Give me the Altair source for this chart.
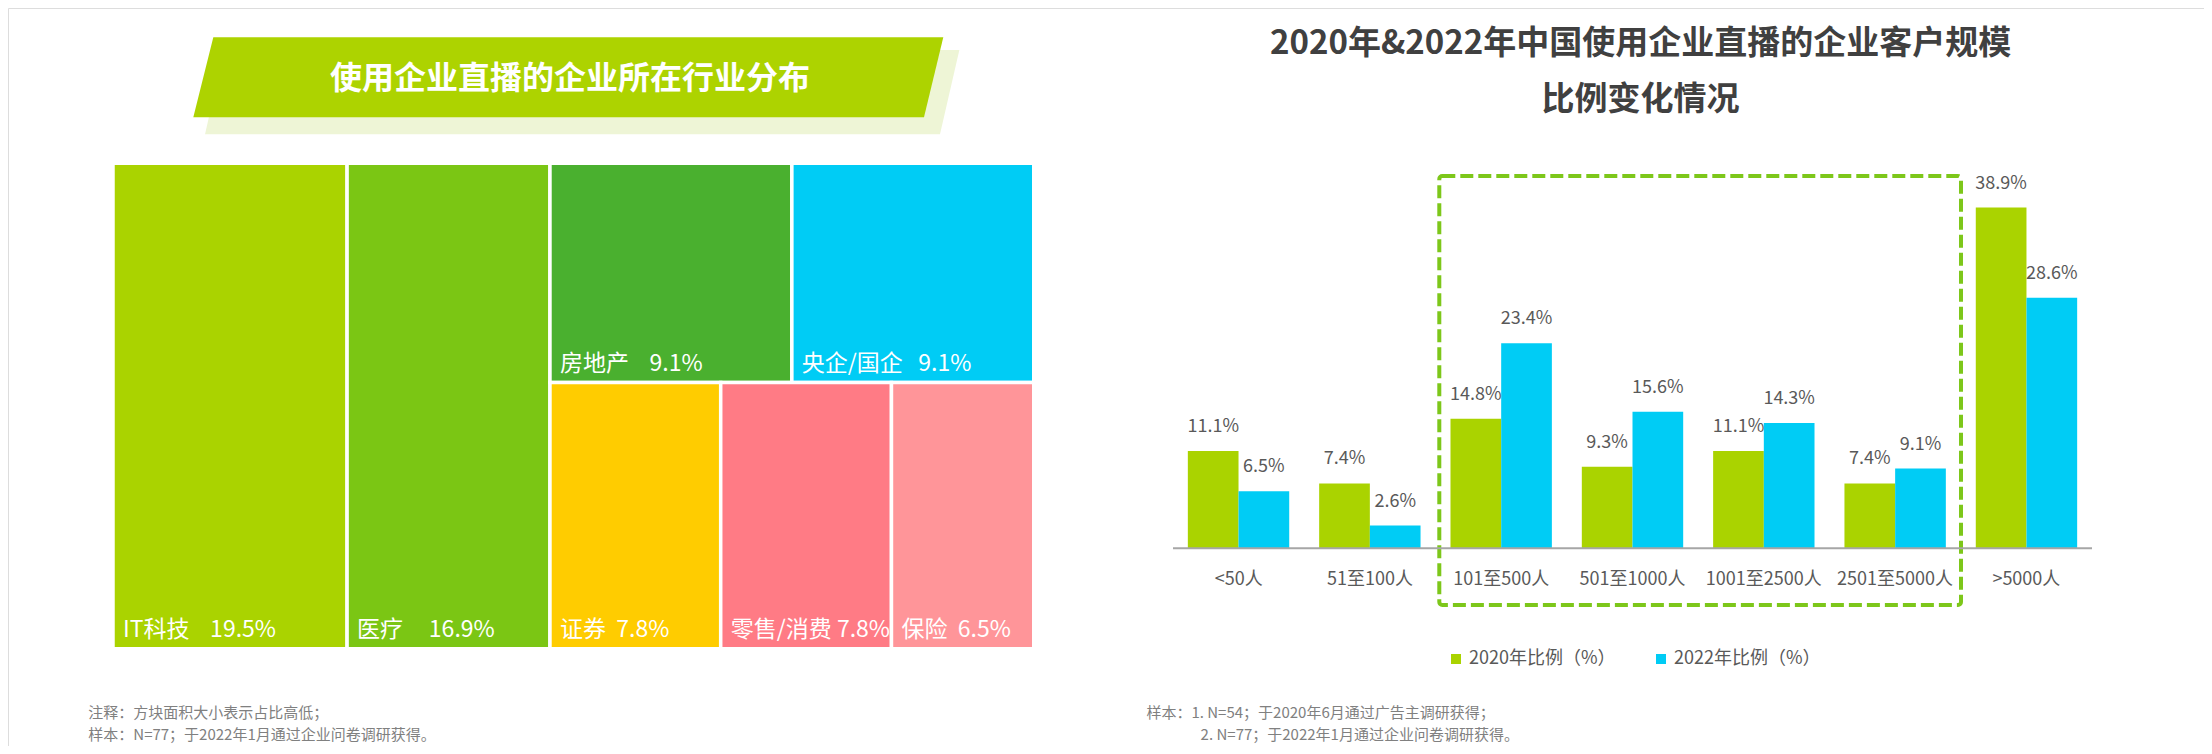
import altair as alt
import pandas as pd

FONT = "Noto Sans CJK SC"

# ---------------- data ----------------
industries = ["IT科技", "医疗", "房地产", "央企/国企", "证券", "零售/消费", "保险"]
industry_share = [19.5, 16.9, 9.1, 9.1, 7.8, 7.8, 6.5]
industry_colors = ["#AAD300", "#7BC614", "#4AB02F", "#00CCF5", "#FFCC00", "#FF7B85", "#FF9599"]
label_gaps = [4, 5, 4, 3, 2, 1, 2]
top_row = [2, 3]
bottom_row = [4, 5, 6]

size_cats = ["<50人", "51至100人", "101至500人", "501至1000人", "1001至2500人", "2501至5000人", ">5000人"]
share_2020 = [11.1, 7.4, 14.8, 9.3, 11.1, 7.4, 38.9]
share_2022 = [6.5, 2.6, 23.4, 15.6, 14.3, 9.1, 28.6]
years = ["2020年比例（%）", "2022年比例（%）"]
year_colors = ["#AAD300", "#00CCF5"]

left_title = "使用企业直播的企业所在行业分布"
right_title_1 = "2020年&2022年中国使用企业直播的企业客户规模"
right_title_2 = "比例变化情况"
left_note_1 = "注释：方块面积大小表示占比高低；"
left_note_2 = "样本：N=77；于2022年1月通过企业问卷调研获得。"
right_note_1 = "样本：1. N=54；于2020年6月通过广告主调研获得；"
right_note_2 = "2. N=77；于2022年1月通过企业问卷调研获得。"

# ---------------- treemap layout (slice and dice from values) ----------------
total = sum(industry_share)
tm_rows = []
xc = 0.0
for i in [0, 1]:
    v = industry_share[i]
    tm_rows.append(dict(name=industries[i], x0=xc, x1=xc + v, y0=0.0, y1=1.0,
                        label=industries[i] + "\u00a0" * label_gaps[i] + f"{v}%"))
    xc += v
bx0 = xc
bw = total - xc
top_sum = sum(industry_share[i] for i in top_row)
bot_sum = sum(industry_share[i] for i in bottom_row)
split = bot_sum / (top_sum + bot_sum)
for idxs, y0, y1, s in [(top_row, split, 1.0, top_sum), (bottom_row, 0.0, split, bot_sum)]:
    cx = bx0
    for i in idxs:
        w = industry_share[i] / s * bw
        tm_rows.append(dict(name=industries[i], x0=cx, x1=cx + w, y0=y0, y1=y1,
                            label=industries[i] + "\u00a0" * label_gaps[i] + f"{industry_share[i]}%"))
        cx += w
tm = pd.DataFrame(tm_rows)

bars = pd.DataFrame(
    [dict(size=c, year=years[0], value=v, label=f"{v}%") for c, v in zip(size_cats, share_2020)]
    + [dict(size=c, year=years[1], value=v, label=f"{v}%") for c, v in zip(size_cats, share_2022)]
)
cats_df = pd.DataFrame({"size": size_cats})
one = pd.DataFrame({"a": [0]})

# ---------------- scales ----------------
tm_x = alt.Scale(domain=[0, total], range=[105, 1025.75], nice=False, zero=False)
tm_y = alt.Scale(domain=[0, 1], range=[640.75, 155.25], nice=False, zero=False)
tm_color = alt.Scale(domain=industries, range=industry_colors)

bx = alt.Scale(domain=size_cats, range=[1165, 2084], paddingInner=0.228, paddingOuter=0.113)
bxo = alt.Scale(domain=years, paddingInner=0, paddingOuter=0)
by = alt.Scale(domain=[0, 40], range=[540.3, 189.9], nice=False, zero=True)
bcolor = alt.Scale(domain=years, range=year_colors)

# ---------------- left panel ----------------
banner_shadow = alt.Chart(one).mark_point(
    shape="M -0.9497 -0.1118 L 1 -0.1118 L 0.9487 0.1118 L -1 0.1118 Z",
    filled=True, opacity=1, strokeWidth=0, color="#EEF5D6", size=754.3 ** 2,
).encode(x=alt.value(574.2), y=alt.value(84.2))

banner = alt.Chart(one).mark_point(
    shape="M -0.9467 -0.1067 L 1 -0.1067 L 0.9485 0.1067 L -1 0.1067 Z",
    filled=True, opacity=1, strokeWidth=0, color="#ADD300", size=750 ** 2,
).encode(x=alt.value(560.3), y=alt.value(69.3))

banner_text = alt.Chart(one).mark_text(
    text=left_title, font=FONT, fontSize=32, fontWeight="bold", color="white",
    align="center", baseline="middle",
).encode(x=alt.value(562), y=alt.value(71))

tm_rect = alt.Chart(tm).mark_rect(stroke="white", strokeWidth=3.5).encode(
    x=alt.X("x0:Q", scale=tm_x, axis=None),
    x2="x1:Q",
    y=alt.Y("y0:Q", scale=tm_y, axis=None),
    y2="y1:Q",
    color=alt.Color("name:N", scale=tm_color, legend=None),
)

tm_text = alt.Chart(tm).mark_text(
    font=FONT, fontSize=23, color="white", align="left", baseline="alphabetic", dx=10, dy=-12,
).encode(
    x=alt.X("x0:Q", scale=tm_x, axis=None),
    y=alt.Y("y0:Q", scale=tm_y, axis=None),
    text="label:N",
)

note_style = dict(font=FONT, fontSize=15, color="#808080", align="left", baseline="middle")
ln1 = alt.Chart(one).mark_text(text=left_note_1, **note_style).encode(x=alt.value(80.3), y=alt.value(705))
ln2 = alt.Chart(one).mark_text(text=left_note_2, **note_style).encode(x=alt.value(80.3), y=alt.value(727))

# ---------------- right panel ----------------
title_style = dict(font=FONT, fontSize=33, fontWeight="bold", color="#404040", align="center", baseline="middle")
rt1 = alt.Chart(one).mark_text(text=right_title_1, **title_style).encode(x=alt.value(1632.6), y=alt.value(36))
rt2 = alt.Chart(one).mark_text(text=right_title_2, **title_style).encode(x=alt.value(1632.6), y=alt.value(92))

dash_box = alt.Chart(one).mark_rect(
    fillOpacity=0, stroke="#7DC71A", strokeWidth=4, strokeDash=[13, 5], cornerRadius=3,
).encode(x=alt.value(1431.3), x2=alt.value(1953), y=alt.value(168), y2=alt.value(597))

bar_layer = alt.Chart(bars).mark_bar().encode(
    x=alt.X("size:N", sort=size_cats, scale=bx, axis=None),
    xOffset=alt.XOffset("year:N", sort=years, scale=bxo),
    y=alt.Y("value:Q", scale=by, axis=None),
    color=alt.Color(
        "year:N", scale=bcolor,
        legend=alt.Legend(
            orient="none", legendX=1439, legendY=642, direction="horizontal", title=None,
            symbolType="square", symbolSize=100, symbolStrokeWidth=0,
            labelFont=FONT, labelFontSize=18, labelColor="#595959", labelOffset=4,
            columnPadding=36, padding=0, labelLimit=400,
        ),
    ),
)

bar_text = alt.Chart(bars).mark_text(
    font=FONT, fontSize=18, color="#595959", align="center", baseline="alphabetic", dy=-19,
).encode(
    x=alt.X("size:N", sort=size_cats, scale=bx, axis=None),
    xOffset=alt.XOffset("year:N", sort=years, scale=bxo),
    y=alt.Y("value:Q", scale=by, axis=None),
    text="label:N",
)

baseline = alt.Chart(one).mark_rule(color="#A6A6A6", strokeWidth=2).encode(
    x=alt.value(1165), x2=alt.value(2084),
    y=alt.YDatum(0, type="quantitative", scale=by, axis=None),
)

cat_text = alt.Chart(cats_df).mark_text(
    font=FONT, fontSize=18, color="#595959", align="center", baseline="alphabetic",
).encode(
    x=alt.X("size:N", sort=size_cats, scale=bx, axis=None),
    y=alt.value(577),
    text="size:N",
)

rn1 = alt.Chart(one).mark_text(text=right_note_1, **note_style).encode(x=alt.value(1138.4), y=alt.value(705))
rn2 = alt.Chart(one).mark_text(text=right_note_2, **note_style).encode(x=alt.value(1192.6), y=alt.value(727))

chart = alt.layer(
    banner_shadow, banner, banner_text, tm_rect, tm_text, ln1, ln2,
    rt1, rt2, dash_box, bar_layer, bar_text, baseline, cat_text, rn1, rn2,
).resolve_scale(
    x="independent", y="independent", color="independent"
).properties(
    width=2196, height=738, padding=0,
    autosize=alt.AutoSizeParams(type="none"),
).configure_view(stroke=None).configure(font=FONT)

chart.save("out.html", embed_options={"renderer": "svg", "actions": False})
